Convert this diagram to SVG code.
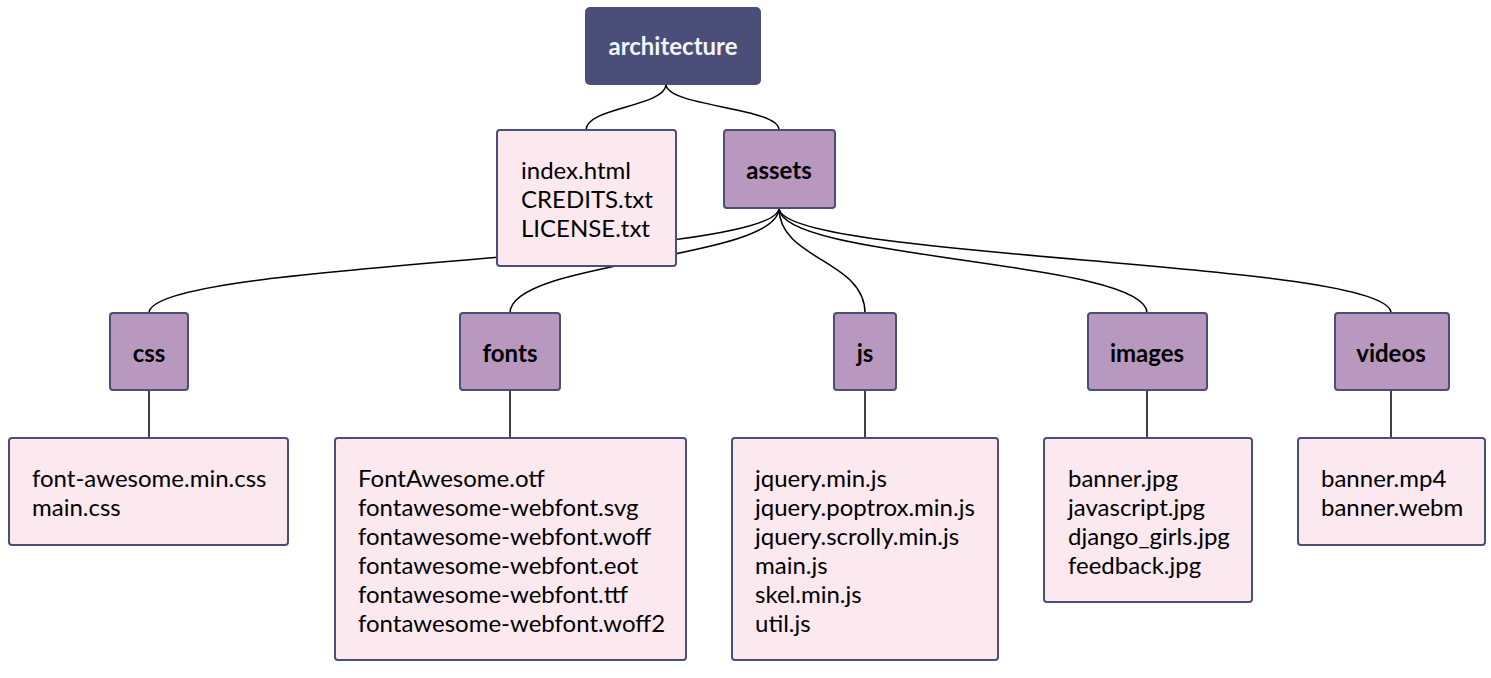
<svg xmlns="http://www.w3.org/2000/svg" width="1491" height="678" viewBox="0 0 1491 678">
<style>
.edge{fill:none;stroke:#000;stroke-width:1.5}
.root{fill:#4a4e78;stroke:#4a4e78;stroke-width:2}
.dir{fill:#b998bf;stroke:#4a4e78;stroke-width:2}
.leaf{fill:#fbe9ef;stroke:#4a4e78;stroke-width:2}
text{font-family:Lato,"Open Sans","Liberation Sans",sans-serif;font-size:24px}
.lbl{font-weight:bold;text-anchor:middle;fill:#000}
.rootlbl{font-weight:bold;text-anchor:middle;fill:#f4f4f8}
.files{fill:#000}
</style>
<rect width="1491" height="678" fill="#fff"/>
<g id="connectors">
<path class="edge" d="M666,84 C666,107 586,107 586,130"/>
<path class="edge" d="M666,84 C666,107 779,107 779,130"/>
<path class="edge" d="M779,208 C779,260 149,260 149,313"/>
<path class="edge" d="M779,208 C779,260 510,260 510,313"/>
<path class="edge" d="M779,208 C779,260 865,260 865,313"/>
<path class="edge" d="M779,208 C779,260 1147,260 1147,313"/>
<path class="edge" d="M779,208 C779,260 1391,260 1391,313"/>
<path class="edge" d="M149,390 V438"/>
<path class="edge" d="M510,390 V438"/>
<path class="edge" d="M865,390 V438"/>
<path class="edge" d="M1147,390 V438"/>
<path class="edge" d="M1391,390 V438"/>
</g>
<g id="architecture">
<rect class="root" x="586" y="8" width="174" height="76" rx="4"/>
<text class="rootlbl" x="673" y="55">architecture</text>
</g>
<g id="rootfiles">
<rect class="leaf" x="497" y="130" width="179" height="136" rx="3"/>
<text class="files" x="521" y="179">index.html</text>
<text class="files" x="521" y="208">CREDITS.txt</text>
<text class="files" x="521" y="237">LICENSE.txt</text>
</g>
<g id="assets">
<rect class="dir" x="724" y="130" width="111" height="78" rx="3"/>
<text class="lbl" x="779" y="179">assets</text>
</g>
<g id="css">
<rect class="dir" x="110" y="313" width="78" height="77" rx="3"/>
<text class="lbl" x="149" y="362">css</text>
</g>
<g id="fonts">
<rect class="dir" x="460" y="313" width="100" height="77" rx="3"/>
<text class="lbl" x="510" y="362">fonts</text>
</g>
<g id="js">
<rect class="dir" x="834" y="313" width="62" height="77" rx="3"/>
<text class="lbl" x="865" y="362">js</text>
</g>
<g id="images">
<rect class="dir" x="1088" y="313" width="119" height="77" rx="3"/>
<text class="lbl" x="1147" y="362">images</text>
</g>
<g id="videos">
<rect class="dir" x="1335" y="313" width="114" height="77" rx="3"/>
<text class="lbl" x="1391" y="362">videos</text>
</g>
<g id="cssfiles">
<rect class="leaf" x="9" y="438" width="279" height="107" rx="3"/>
<text class="files" x="32" y="487">font-awesome.min.css</text>
<text class="files" x="32" y="516">main.css</text>
</g>
<g id="fontfiles">
<rect class="leaf" x="335" y="438" width="351" height="222" rx="3"/>
<text class="files" x="358" y="487">FontAwesome.otf</text>
<text class="files" x="358" y="516">fontawesome-webfont.svg</text>
<text class="files" x="358" y="545">fontawesome-webfont.woff</text>
<text class="files" x="358" y="574">fontawesome-webfont.eot</text>
<text class="files" x="358" y="603">fontawesome-webfont.ttf</text>
<text class="files" x="358" y="632">fontawesome-webfont.woff2</text>
</g>
<g id="jsfiles">
<rect class="leaf" x="732" y="438" width="266" height="222" rx="3"/>
<text class="files" x="755" y="487">jquery.min.js</text>
<text class="files" x="755" y="516">jquery.poptrox.min.js</text>
<text class="files" x="755" y="545">jquery.scrolly.min.js</text>
<text class="files" x="755" y="574">main.js</text>
<text class="files" x="755" y="603">skel.min.js</text>
<text class="files" x="755" y="632">util.js</text>
</g>
<g id="imagefiles">
<rect class="leaf" x="1044" y="438" width="208" height="164" rx="3"/>
<text class="files" x="1068" y="487">banner.jpg</text>
<text class="files" x="1068" y="516">javascript.jpg</text>
<text class="files" x="1068" y="545">django_girls.jpg</text>
<text class="files" x="1068" y="574">feedback.jpg</text>
</g>
<g id="videofiles">
<rect class="leaf" x="1298" y="438" width="187" height="107" rx="3"/>
<text class="files" x="1321" y="487">banner.mp4</text>
<text class="files" x="1321" y="516">banner.webm</text>
</g>
</svg>
